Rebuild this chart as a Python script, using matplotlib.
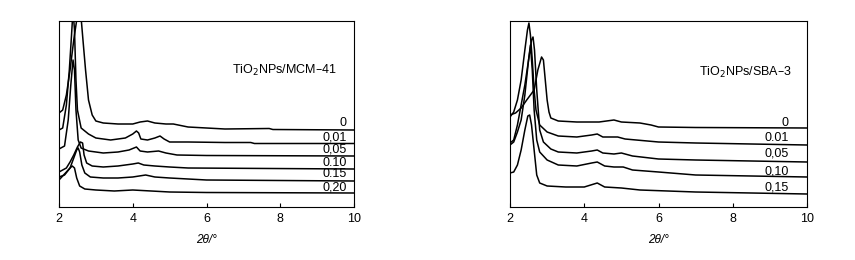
import matplotlib
matplotlib.use("Agg")
import matplotlib.pyplot as plt

plt.rcParams["font.family"] = ["Liberation Sans", "DejaVu Sans"]

# ---- TiO2NPs/MCM-41 (offset intensities, a.u.) ----
mcm_labels = ["0", "0,01", "0,05", "0.10", "0.15", "0,20"]
mcm_label_y = [84, 70, 58, 44, 33, 20]

mcm_x = [
    [2.0, 2.1, 2.2, 2.3, 2.4, 2.48, 2.55, 2.6, 2.65, 2.72, 2.8, 2.9, 3.0, 3.2, 3.6, 4.0, 4.2, 4.4, 4.6, 4.9, 5.1, 5.5, 6.5, 7.7, 7.8, 10],
    [2.0, 2.1, 2.2, 2.28, 2.34, 2.38, 2.42, 2.46, 2.5, 2.6, 2.8, 3.0, 3.4, 3.8, 4.0, 4.1, 4.16, 4.22, 4.4, 4.6, 4.74, 4.85, 5.0, 5.5, 6.5, 7.2, 7.3, 10],
    [2.0, 2.15, 2.25, 2.32, 2.38, 2.42, 2.46, 2.52, 2.6, 2.8, 3.2, 3.6, 3.9, 4.1, 4.2, 4.4, 4.7, 4.9, 5.2, 6.0, 10],
    [2.0, 2.1, 2.2, 2.3, 2.4, 2.5, 2.58, 2.64, 2.68, 2.75, 2.9, 3.2, 3.6, 4.0, 4.15, 4.3, 4.6, 5.0, 5.5, 10],
    [2.0, 2.15, 2.3, 2.4, 2.48, 2.52, 2.56, 2.62, 2.7, 2.85, 3.2, 3.6, 4.0, 4.35, 4.6, 5.0, 6.0, 10],
    [2.0, 2.1, 2.2, 2.3, 2.36, 2.42, 2.48, 2.56, 2.7, 3.0, 3.5, 4.0, 4.5, 5.0, 6.0, 10],
]
mcm_y = [
    [94, 97, 112, 137, 167, 187, 197, 189, 167, 137, 107, 92, 86, 84, 83, 83, 85, 86, 84, 83, 83, 80, 78, 78.5, 77.5, 77],
    [77, 79, 102, 137, 172, 197, 177, 127, 97, 79, 73, 69, 67, 69, 73, 76, 74, 68, 67, 69, 71, 68, 65, 65, 64.5, 64.5, 63.5, 63.5],
    [58, 61, 87, 122, 147, 137, 97, 67, 59, 56, 54, 55, 57, 60, 56, 55, 56, 54, 52, 51.5, 51],
    [35, 37, 39, 45, 52, 60, 65, 64, 52, 44, 41, 40, 41, 43, 44, 42, 41, 40, 39, 38],
    [30, 32, 39, 49, 57, 59, 55, 42, 34, 30, 29, 29, 30, 32, 30, 29, 27, 26],
    [27, 31, 35, 39, 41, 39, 29, 21, 18, 17, 16, 17, 16, 15, 14.5, 14],
]

# ---- TiO2NPs/SBA-3 ----
sba_labels = ["0", "0.01", "0,05", "0,10", "0,15"]
sba_label_y = [84, 69, 53, 35, 20]

sba_x = [
    [2.0, 2.15, 2.3, 2.45, 2.55, 2.65, 2.75, 2.85, 2.9, 2.95, 3.0, 3.05, 3.1, 3.3, 3.8, 4.4, 4.8, 5.0, 5.5, 5.8, 6.0, 7.0, 10],
    [2.0, 2.1, 2.2, 2.3, 2.4, 2.47, 2.51, 2.55, 2.6, 2.65, 2.7, 2.8, 3.0, 3.3, 3.8, 4.2, 4.35, 4.5, 4.9, 5.1, 6.0, 7.0, 10],
    [2.0, 2.1, 2.2, 2.3, 2.4, 2.5, 2.58, 2.62, 2.66, 2.72, 2.8, 2.9, 3.1, 3.3, 3.8, 4.2, 4.35, 4.5, 4.8, 5.0, 5.3, 6.0, 7.0, 10],
    [2.0, 2.1, 2.2, 2.3, 2.4, 2.5, 2.55, 2.6, 2.65, 2.72, 2.8, 3.0, 3.3, 3.8, 4.2, 4.35, 4.55, 4.8, 5.05, 5.3, 6.0, 7.0, 10],
    [2.0, 2.1, 2.2, 2.3, 2.4, 2.48, 2.53, 2.58, 2.65, 2.72, 2.8, 3.0, 3.5, 4.0, 4.35, 4.55, 5.0, 5.5, 7.0, 10],
]
sba_y = [
    [92, 94, 99, 107, 112, 117, 137, 150, 147, 127, 107, 95, 89, 86, 85, 85, 87, 85, 84, 82, 80, 79.5, 79],
    [90, 95, 107, 127, 157, 177, 184, 172, 147, 117, 97, 82, 75, 71, 70, 72, 73, 70, 70, 68, 65, 64, 62],
    [64, 67, 82, 102, 122, 147, 167, 170, 157, 117, 77, 65, 58, 55, 54, 56, 57, 54, 53, 54, 51, 48, 47, 45],
    [62, 65, 75, 87, 112, 147, 162, 137, 97, 67, 55, 47, 42, 41, 44, 45, 41, 40, 40, 37, 35, 32, 30],
    [34, 35, 42, 57, 77, 91, 92, 82, 57, 32, 24, 21, 20, 20, 24, 20, 19, 17, 15, 13],
]

fig = plt.figure(figsize=(8.55, 2.6), dpi=100)
ax1 = fig.add_axes([59 / 855, 53 / 260, 295 / 855, 186 / 260])
ax2 = fig.add_axes([510 / 855, 53 / 260, 297 / 855, 186 / 260])

panels = [
    (ax1, mcm_x, mcm_y, mcm_labels, mcm_label_y, "TiO$_2$NPs/MCM\u201341", 8.12, 137, 9.8),
    (ax2, sba_x, sba_y, sba_labels, sba_label_y, "TiO$_2$NPs/SBA\u20133", 8.33, 135, 9.5),
]

for ax, xs, ys, labs, laby, title, tx, ty, lx in panels:
    for x, y in zip(xs, ys):
        ax.plot(x, y, color="black", lw=1.1)
    for lab, ly in zip(labs, laby):
        ax.text(lx, ly, lab, ha="right", va="center", fontsize=9)
    ax.text(tx, ty, title, ha="center", va="center", fontsize=9)
    ax.set_xlim(2, 10)
    ax.set_ylim(0, 186)
    ax.set_xticks([2, 4, 6, 8, 10])
    ax.set_yticks([])
    ax.tick_params(axis="x", direction="in", length=3, labelsize=9, pad=4)
    ax.set_xlabel("2θ/°", fontsize=8.5, style="italic", labelpad=7)
    for s in ax.spines.values():
        s.set_linewidth(0.8)

plt.savefig("out.png", dpi=100)
